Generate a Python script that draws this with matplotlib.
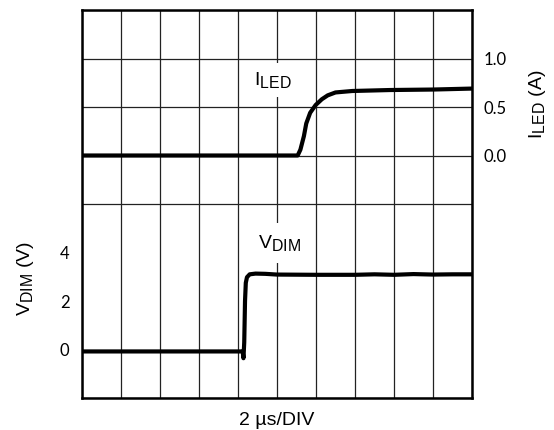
import matplotlib
matplotlib.use("Agg")
import matplotlib.pyplot as plt
import matplotlib._mathtext as _mt
import numpy as np

_mt.SHRINK_FACTOR = 0.82

plt.rcParams['font.family'] = ['Liberation Sans', 'DejaVu Sans']
plt.rcParams['mathtext.fontset'] = 'custom'
plt.rcParams['mathtext.rm'] = 'Liberation Sans'
plt.rcParams['mathtext.it'] = 'Liberation Sans'

# time in microseconds (2 us per division)
vdim_t = [0, 4, 8, 8.24, 8.28, 8.32, 8.36, 8.40, 8.46, 8.6, 8.9, 9.4, 10, 12, 14, 15, 16, 17, 18, 19, 20]
vdim_v = [-0.08, -0.08, -0.08, -0.08, -0.36, 0.3, 2.0, 2.75, 2.98, 3.1, 3.13, 3.12, 3.09, 3.08, 3.08, 3.1, 3.08, 3.11, 3.09, 3.1, 3.1]

iled_t = [0, 4, 8, 11.06, 11.2, 11.38, 11.5, 11.7, 11.98, 12.3, 12.6, 13.0, 13.86, 15.8, 18, 20]
iled_a = [0.0, 0.0, 0.0, 0.0, 0.06, 0.2, 0.33, 0.44, 0.52, 0.58, 0.62, 0.65, 0.665, 0.675, 0.68, 0.69]

v_ticks = [0, 2, 4]
i_ticks = [0.0, 0.5, 1.0]
i_tick_labels = ['0.0', '0.5', '1.0']

W, H = 554, 430
fig = plt.figure(figsize=(W / 100, H / 100), dpi=100)
ax = fig.add_axes([82 / W, 1 - 398 / H, 390 / W, 388 / H])
ax.set_xlim(0, 20)
ax.set_ylim(-2, 14)
ax.set_xticks(np.arange(0, 21, 2), minor=True)
ax.set_yticks(np.arange(-2, 15, 2), minor=True)
ax.set_xticks([])
ax.set_yticks(v_ticks)
ax.grid(True, which='minor', color='#222222', linewidth=0.9)
ax.tick_params(which='both', length=0)
ax.tick_params(axis='y', labelsize=12, pad=9)
for lab in ax.get_yticklabels():
    lab.set_family(['Lato', 'DejaVu Sans'])
for s in ax.spines.values():
    s.set_linewidth(1.8)
ax.plot(vdim_t, vdim_v, color='black', linewidth=3.0, solid_capstyle='round', zorder=3)
ax.set_xlabel('2 µs/DIV', fontsize=14, labelpad=7)

ax2 = ax.twinx()
ax2.set_ylim(-2.5, 1.5)
ax2.set_yticks(i_ticks)
ax2.set_yticklabels(i_tick_labels)
ax2.tick_params(length=0, labelsize=12, pad=8)
for lab in ax2.get_yticklabels():
    lab.set_family(['Lato', 'DejaVu Sans'])
for s in ax2.spines.values():
    s.set_visible(False)
ax2.plot(iled_t, iled_a, color='black', linewidth=3.0, solid_capstyle='round', zorder=3)

fig.text(537 / W, 1 - 104 / H, r'I$_{\mathrm{LED}}$ (A)', rotation=90, fontsize=14,
         ha='center', va='center')
fig.text(26 / W, 1 - 278 / H, r'V$_{\mathrm{DIM}}$ (V)', rotation=90, fontsize=14,
         ha='center', va='center')

ax.text(9.8, 11.1, r'I$_{\mathrm{LED}}$', fontsize=14, ha='center', va='center',
        bbox=dict(facecolor='white', edgecolor='none', pad=5), zorder=4)
ax.text(10.15, 4.4, r'V$_{\mathrm{DIM}}$', fontsize=14, ha='center', va='center',
        bbox=dict(facecolor='white', edgecolor='none', pad=7), zorder=4)

fig.savefig('out.png', dpi=100)
